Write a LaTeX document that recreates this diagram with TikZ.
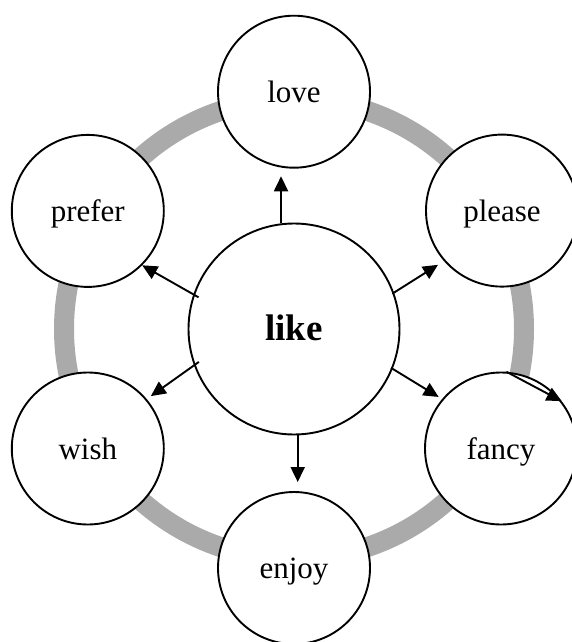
\documentclass[tikz,border=0pt]{standalone}
\usepackage{fontspec}
\setmainfont{Liberation Serif}
\usetikzlibrary{arrows.meta}
\begin{document}
\begin{tikzpicture}[x=1pt,y=-1pt,
  leaf/.style={circle,draw=black,line width=1.9pt,fill=white,minimum size=152pt,inner sep=0pt,text height=21pt,text depth=0pt,font=\fontsize{31}{31}\selectfont},
  hub/.style={circle,draw=black,line width=1.9pt,fill=white,minimum size=211pt,inner sep=0pt,text height=22pt,text depth=0pt,font=\fontsize{37}{37}\selectfont\bfseries},
  arr/.style={line width=1.9pt,-{Triangle[length=15pt,width=14pt]}},
  ring/.style={line width=20pt,draw=ringgray}]
\definecolor{ringgray}{RGB}{170,170,170}
\useasboundingbox (0,0) rectangle (571,642);
\coordinate (c) at (294,329);
\draw[ring] (c) circle[radius=230];
\node[hub] (like) at (c) {like};
\node[leaf] (love) at (294,91.7) {love};
\node[leaf] (prefer) at (87.8,210.9) {prefer};
\node[leaf] (please) at (502,210.6) {please};
\node[leaf] (wish) at (87.8,448.5) {wish};
\node[leaf] (fancy) at (501,448.5) {fancy};
\node[leaf] (enjoy) at (294,568) {enjoy};
\draw[arr,shorten >=7.6pt] (like.97) -- (like.97 |- love.south);
\draw[arr,shorten >=9pt,shorten <=-1pt] (like.-88.5) -- (like.-88.5 |- enjoy.north);
\draw[arr,shorten <=-6pt] (like.161) -- (prefer.-45);
\draw[arr,shorten <=-2pt,shorten >=7pt] (like.20.8) -- (please.-139);
\draw[arr,shorten <=-6pt,shorten >=5pt] (like.200) -- (wish.40);
\draw[arr,shorten <=-2pt,shorten >=4pt] (like.-22) -- (fancy.140);
\draw[arr] (fancy.86) -- (fancy.38.6);
\end{tikzpicture}
\end{document}
